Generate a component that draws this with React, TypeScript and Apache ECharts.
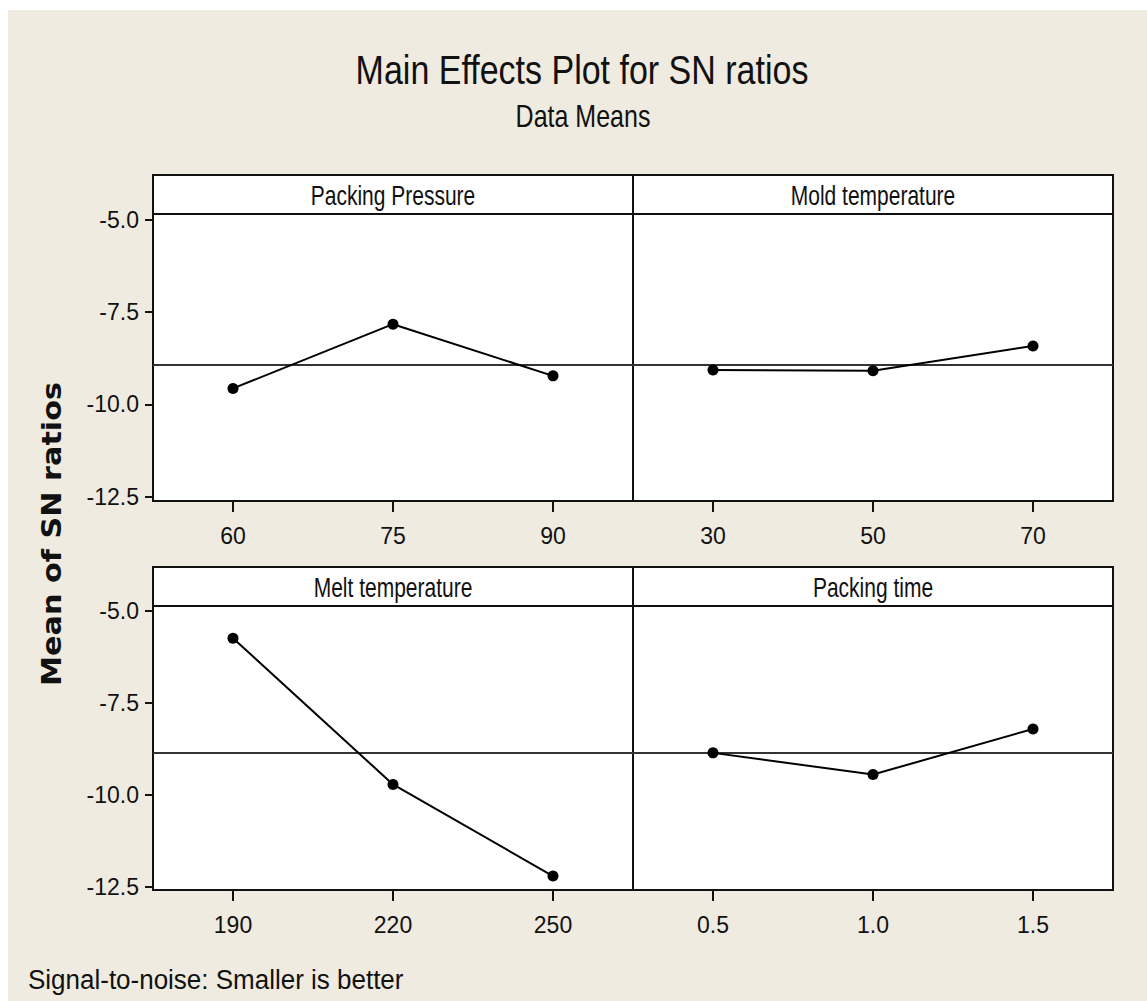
import React, { useEffect, useRef } from "react";
import * as echarts from "echarts";

// ---------- text ----------
const TITLE = "Main Effects Plot for SN ratios";
const SUBTITLE = "Data Means";
const Y_NAME = "Mean of SN ratios";
const FOOTNOTE = "Signal-to-noise: Smaller is better";

// ---------- data ----------
const FACTORS = ["Packing Pressure", "Mold temperature", "Melt temperature", "Packing time"];
const PACKING_PRESSURE_LEVELS = ["60", "75", "90"];
const MOLD_TEMP_LEVELS = ["30", "50", "70"];
const MELT_TEMP_LEVELS = ["190", "220", "250"];
const PACKING_TIME_LEVELS = ["0.5", "1.0", "1.5"];

const PACKING_PRESSURE_SN = [-9.57, -7.83, -9.23];
const MOLD_TEMP_SN = [-9.07, -9.09, -8.42];
const MELT_TEMP_SN = [-5.74, -9.72, -12.21];
const PACKING_TIME_SN = [-8.86, -9.45, -8.21];

const MEAN_SN_TOP_ROW = -8.93;
const MEAN_SN_BOTTOM_ROW = -8.86;
const Y_TICKS = [-12.5, -10.0, -7.5, -5.0];

// ---------- layout ----------
const PANEL_LEFTS = [153, 633];
const PANEL_WIDTH = 480;
const ROWS = [
  { stripTop: 175, plotTop: 214, plotBottom: 501, yMin: -12.62, yMax: -4.845 },
  { stripTop: 567, plotTop: 606, plotBottom: 890, yMin: -12.59, yMax: -4.865 },
];

const FONT = "'Liberation Sans', Arial, sans-serif";

export default function App() {
  const ref = useRef<HTMLDivElement>(null);

  useEffect(() => {
    document.body.style.margin = "0";
    document.body.style.overflow = "hidden";
    if (!ref.current) return;
    const chart = echarts.init(ref.current, undefined, { renderer: "svg" });

    const panels = [
      { levels: PACKING_PRESSURE_LEVELS, values: PACKING_PRESSURE_SN, row: 0, col: 0, mean: MEAN_SN_TOP_ROW },
      { levels: MOLD_TEMP_LEVELS, values: MOLD_TEMP_SN, row: 0, col: 1, mean: MEAN_SN_TOP_ROW },
      { levels: MELT_TEMP_LEVELS, values: MELT_TEMP_SN, row: 1, col: 0, mean: MEAN_SN_BOTTOM_ROW },
      { levels: PACKING_TIME_LEVELS, values: PACKING_TIME_SN, row: 1, col: 1, mean: MEAN_SN_BOTTOM_ROW },
    ];

    const grid = panels.map((p) => {
      const r = ROWS[p.row];
      return {
        left: PANEL_LEFTS[p.col],
        top: r.plotTop,
        width: PANEL_WIDTH,
        height: r.plotBottom - r.plotTop,
        show: true,
        backgroundColor: "#ffffff",
        borderColor: "#111111",
        borderWidth: 2,
        containLabel: false,
      };
    });

    const xAxis = panels.map((p, i) => ({
      type: "category",
      gridIndex: i,
      data: p.levels,
      boundaryGap: true,
      axisLine: { show: true, lineStyle: { color: "#111", width: 2 } },
      axisTick: { show: true, alignWithLabel: true, inside: false, length: 11, lineStyle: { color: "#111", width: 2 } },
      axisLabel: {
        show: true,
        color: "#111",
        fontFamily: FONT,
        fontSize: 23,
        margin: 23,
        interval: 0,
      },
      splitLine: { show: false },
    }));

    const yAxis = panels.map((p, i) => {
      const r = ROWS[p.row];
      const showAxis = p.col === 0;
      return {
        type: "value",
        gridIndex: i,
        min: r.yMin,
        max: r.yMax,
        show: showAxis,
        axisLine: { show: showAxis, lineStyle: { color: "#111", width: 2 } },
        axisTick: {
          show: showAxis,
          inside: false,
          length: 8,
          customValues: Y_TICKS,
          lineStyle: { color: "#111", width: 2 },
        },
        axisLabel: {
          show: showAxis,
          customValues: Y_TICKS,
          color: "#111",
          fontFamily: FONT,
          fontSize: 23,
          margin: 14,
          formatter: (v: number) => v.toFixed(1),
        },
        splitLine: { show: false },
      };
    });

    const series = panels.map((p, i) => ({
      type: "line",
      name: FACTORS[i],
      xAxisIndex: i,
      yAxisIndex: i,
      data: p.values,
      symbol: "circle",
      symbolSize: 11,
      itemStyle: { color: "#000" },
      lineStyle: { color: "#000", width: 2 },
      z: 5,
      markLine: {
        silent: true,
        symbol: ["none", "none"],
        label: { show: false },
        lineStyle: { color: "#333", width: 2, type: "solid" },
        data: [{ yAxis: p.mean }],
        z: 3,
      },
    }));

    const graphic: any[] = [
      {
        type: "rect",
        shape: { x: 8, y: 10, width: 1139, height: 991 },
        style: { fill: "#efebe0" },
        z: -100,
        silent: true,
      },
    ];

    ROWS.forEach((r) => {
      graphic.push({
        type: "rect",
        shape: { x: PANEL_LEFTS[0], y: r.stripTop, width: PANEL_WIDTH * 2, height: r.plotTop - r.stripTop },
        style: { fill: "#ffffff", stroke: "#111", lineWidth: 2 },
        z: 10,
        silent: true,
      });
      graphic.push({
        type: "line",
        shape: { x1: PANEL_LEFTS[1], y1: r.stripTop, x2: PANEL_LEFTS[1], y2: r.plotTop },
        style: { stroke: "#111", lineWidth: 2 },
        z: 11,
        silent: true,
      });
    });

    const textEl = (
      text: string,
      x: number,
      y: number,
      fontSize: number,
      align: string,
      extra: any = {},
      styleExtra: any = {}
    ) => ({
      type: "text",
      x,
      y,
      z: 12,
      silent: true,
      ...extra,
      style: {
        text,
        fontFamily: FONT,
        fontSize,
        fill: "#111",
        align,
        verticalAlign: "middle",
        textAlign: align,
        textVerticalAlign: "middle",
        ...styleExtra,
      },
    });

    graphic.push(textEl(FACTORS[0], 393, 195, 21, "center", { scaleY: 1.33 }));
    graphic.push(textEl(FACTORS[1], 873, 195, 21, "center", { scaleY: 1.33 }));
    graphic.push(textEl(FACTORS[2], 393, 587, 21, "center", { scaleY: 1.33 }));
    graphic.push(textEl(FACTORS[3], 873, 587, 21, "center", { scaleY: 1.33 }));

    graphic.push(textEl(TITLE, 582, 69.5, 34, "center", { scaleY: 1.19 }));
    graphic.push(textEl(SUBTITLE, 583, 116.5, 25, "center", { scaleY: 1.24 }));
    graphic.push(textEl(FOOTNOTE, 28, 980, 26, "left", { scaleY: 1.07 }));
    graphic.push(
      textEl(
        Y_NAME,
        52,
        534,
        27,
        "center",
        { rotation: Math.PI / 2, scaleX: 1.12 },
        { fontFamily: "'DejaVu Sans', Verdana, sans-serif", fontWeight: "bold" }
      )
    );

    chart.setOption({
      animation: false,
      backgroundColor: "#ffffff",
      grid,
      xAxis,
      yAxis,
      series,
      graphic,
    } as any);

    return () => {
      chart.dispose();
    };
  }, []);

  return <div ref={ref} style={{ width: 1147, height: 1001 }} />;
}
